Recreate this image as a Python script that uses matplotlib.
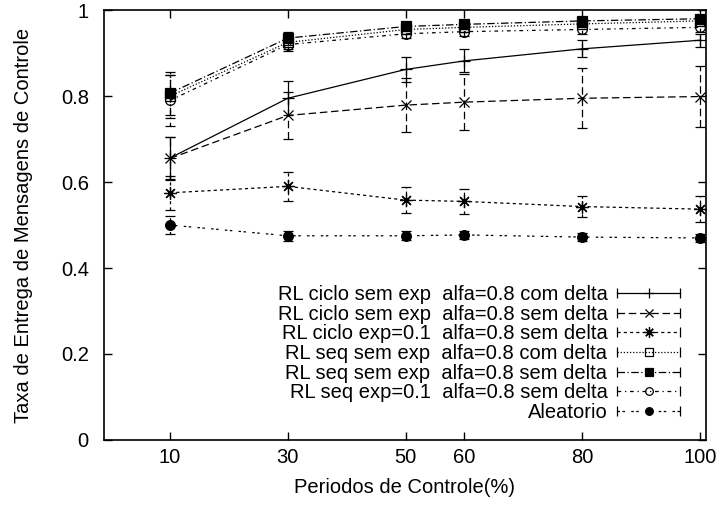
import matplotlib
matplotlib.use("Agg")
import matplotlib.pyplot as plt
from matplotlib.lines import Line2D
from matplotlib.legend_handler import HandlerLine2D, HandlerTuple

plt.rcParams['font.family'] = ['Liberation Sans', 'DejaVu Sans']
plt.rcParams['font.size'] = 14.5

# Periodos de Controle (%)
periodos = [10, 30, 50, 60, 80, 100]

labels = [
    "RL ciclo sem exp  alfa=0.8 com delta",
    "RL ciclo sem exp  alfa=0.8 sem delta",
    "RL ciclo exp=0.1  alfa=0.8 sem delta",
    "RL seq sem exp  alfa=0.8 com delta",
    "RL seq sem exp  alfa=0.8 sem delta",
    "RL seq exp=0.1  alfa=0.8 sem delta",
    "Aleatorio",
]

ciclo_com_delta = [0.656, 0.795, 0.862, 0.882, 0.910, 0.930]
ciclo_com_delta_err = [0.050, 0.040, 0.028, 0.027, 0.020, 0.015]

ciclo_sem_delta = [0.655, 0.755, 0.779, 0.786, 0.795, 0.799]
ciclo_sem_delta_err = [0.050, 0.055, 0.063, 0.065, 0.070, 0.070]

ciclo_exp = [0.575, 0.590, 0.558, 0.555, 0.543, 0.537]
ciclo_exp_err = [0.040, 0.033, 0.030, 0.030, 0.025, 0.030]

seq_com_delta = [0.800, 0.925, 0.955, 0.960, 0.968, 0.975]
seq_com_delta_err = [0.050, 0.015, 0.010, 0.010, 0.008, 0.008]

seq_sem_delta = [0.807, 0.935, 0.962, 0.967, 0.975, 0.980]
seq_sem_delta_err = [0.050, 0.015, 0.010, 0.010, 0.008, 0.008]

seq_exp = [0.790, 0.920, 0.945, 0.950, 0.955, 0.960]
seq_exp_err = [0.060, 0.015, 0.010, 0.010, 0.010, 0.010]

aleatorio = [0.500, 0.475, 0.475, 0.477, 0.472, 0.470]
aleatorio_err = [0.022, 0.012, 0.010, 0.010, 0.010, 0.010]

series = [
    (ciclo_com_delta, ciclo_com_delta_err, '-', '+', 'k', 9),
    (ciclo_sem_delta, ciclo_sem_delta_err, (0, (6, 3)), 'x', 'k', 7.5),
    (ciclo_exp, ciclo_exp_err, (0, (2.5, 2.5)), (8, 2, 0), 'k', 9),
    (seq_com_delta, seq_com_delta_err, (0, (1, 1.5)), 's', 'none', 7),
    (seq_sem_delta, seq_sem_delta_err, (0, (6, 2, 1, 2)), 's', 'k', 7),
    (seq_exp, seq_exp_err, (0, (3, 3, 1, 3)), 'o', 'none', 7),
    (aleatorio, aleatorio_err, (0, (2, 2, 2, 5)), 'o', 'k', 7),
]

fig = plt.figure(figsize=(7.18, 5.08), dpi=100)
ax = fig.add_axes([0.145, 0.134, 0.838, 0.846])

handles = []
hmap = {}
for (y, err, ls, mk, fc, ms) in series:
    eb = ax.errorbar(periodos, y, yerr=err, color='k', lw=0.9, ls=ls,
                     marker=mk, markersize=ms, markerfacecolor=fc,
                     markeredgecolor='k', markeredgewidth=0.9,
                     capsize=3.5, elinewidth=0.9, capthick=0.9)
    eb[2][0].set_linestyle(ls)
    # legend sample in gnuplot style: line with caps at both ends
    caps = Line2D([], [], color='k', lw=0.9, ls=ls, marker='|', markersize=7,
                  markeredgewidth=0.9)
    center = Line2D([], [], color='k', ls='none', marker=mk, markersize=ms - 1.5,
                    markerfacecolor=fc, markeredgecolor='k', markeredgewidth=0.9)
    hmap[caps] = HandlerLine2D(numpoints=2, marker_pad=0)
    hmap[center] = HandlerLine2D(numpoints=1)
    handles.append((caps, center))

hmap[tuple] = HandlerTuple(ndivide=1, pad=0)
ax.legend(handles, labels, handler_map=hmap, loc='lower right',
          bbox_to_anchor=(0.957, 0.042), frameon=False, markerfirst=False,
          handlelength=3.1, handletextpad=0.5, labelspacing=0.03,
          borderpad=0, borderaxespad=0, fontsize=14.5)

ax.set_xlim(-1.2, 101)
ax.set_ylim(0, 1)
ax.set_xticks(periodos)
ax.set_yticks([0, 0.2, 0.4, 0.6, 0.8, 1])
ax.set_yticklabels(['0', '0.2', '0.4', '0.6', '0.8', '1'])
ax.tick_params(direction='in', top=True, right=True, length=6, width=1, labelsize=14.5)
ax.tick_params(axis='x', pad=6)
ax.tick_params(axis='y', pad=11)
for sp in ax.spines.values():
    sp.set_linewidth(1.2)

ax.set_xlabel('Periodos de Controle(%)', fontsize=14.5, labelpad=8)
ax.set_ylabel('Taxa de Entrega de Mensagens de Controle', fontsize=14.5, labelpad=20)

fig.savefig('out.png', dpi=100)
